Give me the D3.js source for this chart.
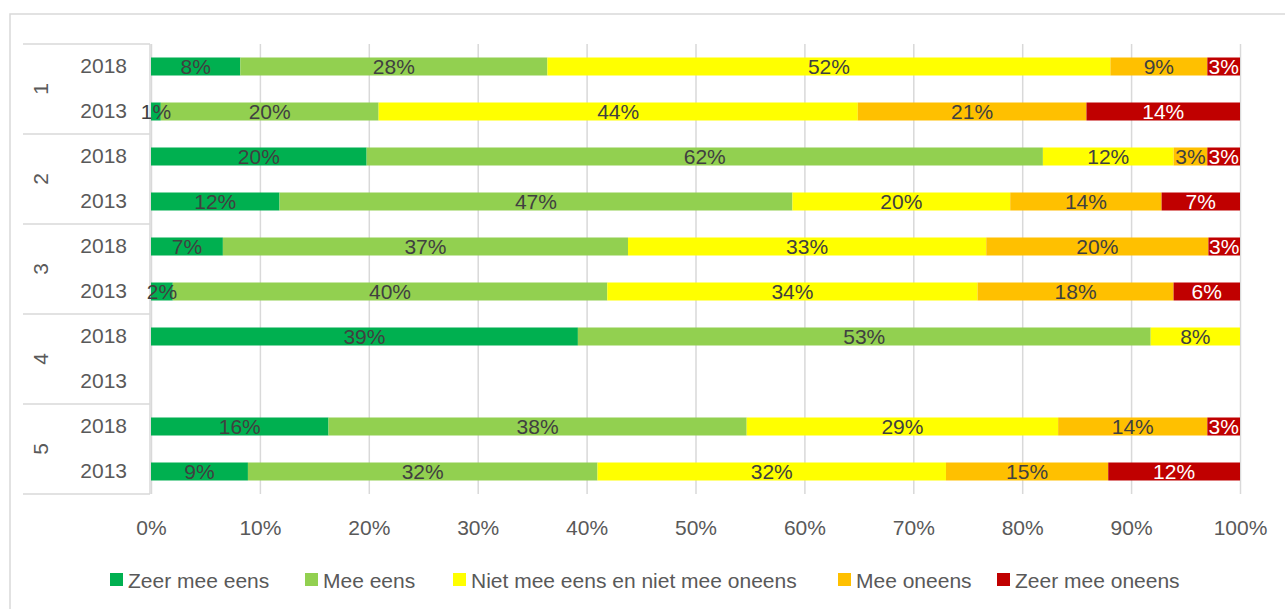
<!DOCTYPE html>
<html>
<head>
<meta charset="utf-8">
<script src="https://cdn.jsdelivr.net/npm/d3@7"></script>
<style>
  body { margin: 0; background: #fff; }
  text { font-family: "Liberation Sans", Arial, sans-serif; }
</style>
</head>
<body>
<div id="chart"></div>
<script>
// Stacked 100% bars per statement (1-5), comparing 2018 with 2013.
const groups = ["1", "2", "3", "4", "5"];
const years = ["2018", "2013"];
const seriesNames = ["Zeer mee eens", "Mee eens", "Niet mee eens en niet mee oneens", "Mee oneens", "Zeer mee oneens"];
const seriesColors = ["#00B050", "#92D050", "#FFFF00", "#FFC000", "#C00000"];

// values per row, in order 1-2018, 1-2013, 2-2018, ... 5-2013
const zeerMeeEens = [8.2, 0.9, 19.8, 11.8, 6.6, 2.0, 39.2, 0, 16.3, 8.9];
const meeEens = [28.2, 20.0, 62.1, 47.1, 37.2, 39.9, 52.6, 0, 38.4, 32.1];
const neutraal = [51.7, 44.0, 12.0, 20.0, 32.9, 34.0, 8.2, 0, 28.6, 32.0];
const meeOneens = [8.9, 21.0, 3.1, 13.9, 20.4, 18.0, 0, 0, 13.7, 14.9];
const zeerMeeOneens = [3.0, 14.1, 3.0, 7.2, 2.9, 6.1, 0, 0, 3.0, 12.1];
const xTicks = [0, 10, 20, 30, 40, 50, 60, 70, 80, 90, 100];

const WIDTH = 1285, HEIGHT = 609;
const PLOT = { left: 151, right: 1240, top: 44, bottom: 494 };
const FONT = "21px";

const rows = groups.flatMap(g => years.map(y => ({ key: `${g}-${y}`, group: g, year: y })));
const seriesValues = [zeerMeeEens, meeEens, neutraal, meeOneens, zeerMeeOneens];
const table = rows.map((r, i) => {
    const o = { key: r.key };
    seriesNames.forEach((s, j) => { o[s] = seriesValues[j][i]; });
    return o;
});

const svg = d3.select("#chart").append("svg")
    .attr("width", WIDTH)
    .attr("height", HEIGHT);

// outer chart border (runs off the picture on the right and bottom)
svg.append("rect")
    .attr("x", 10).attr("y", 14)
    .attr("width", WIDTH).attr("height", HEIGHT)
    .attr("fill", "none")
    .attr("stroke", "#d9d9d9")
    .attr("stroke-width", 1.5);

const x = d3.scaleLinear().domain([0, 100]).range([PLOT.left, PLOT.right]);
const y = d3.scaleBand()
    .domain(rows.map(r => r.key))
    .range([PLOT.top, PLOT.bottom])
    .paddingInner(0.6)
    .paddingOuter(0.3);

// vertical gridlines
svg.append("g")
    .attr("transform", `translate(0, ${PLOT.bottom})`)
    .call(d3.axisBottom(x).tickValues(xTicks).tickSize(-(PLOT.bottom - PLOT.top)).tickFormat(""))
    .call(g => g.select(".domain").remove())
    .call(g => g.selectAll("line").attr("stroke", "#d9d9d9").attr("stroke-width", 1.5));

// x tick labels
svg.append("g")
    .attr("transform", `translate(0, ${PLOT.bottom + 23})`)
    .call(d3.axisBottom(x).tickValues(xTicks).tickSize(0).tickFormat(d => d + "%"))
    .call(g => g.select(".domain").remove())
    .call(g => g.selectAll("text")
        .attr("fill", "#595959")
        .style("font-size", FONT)
        .style("font-family", "'Liberation Sans', Arial, sans-serif"));

// category box: vertical axis line and group separators
const axisG = svg.append("g").attr("stroke", "#d9d9d9").attr("stroke-width", 1.5);
axisG.append("line")
    .attr("x1", PLOT.left - 1).attr("x2", PLOT.left - 1)
    .attr("y1", PLOT.top).attr("y2", PLOT.bottom);

const groupEdges = groups.map(g => y(`${g}-${years[0]}`) - y.step() * 0.3);
groupEdges.push(PLOT.bottom);
axisG.selectAll("line.sep")
    .data(groupEdges)
    .join("line")
    .attr("class", "sep")
    .attr("x1", 23).attr("x2", PLOT.left - 1)
    .attr("y1", d => d).attr("y2", d => d);

// stacked bars
const stack = d3.stack().keys(seriesNames);
const layers = stack(table);

svg.selectAll("g.layer")
    .data(layers)
    .join("g")
    .attr("class", "layer")
    .attr("fill", (d, i) => seriesColors[i])
    .selectAll("rect")
    .data(d => d.filter(p => p[1] - p[0] > 0))
    .join("rect")
    .attr("x", d => x(d[0]))
    .attr("y", d => y(d.data.key))
    .attr("width", d => x(d[1]) - x(d[0]))
    .attr("height", y.bandwidth());

// value labels drawn after all bars so small segments stay readable
const labels = layers.flatMap((layer, i) =>
    layer.filter(p => p[1] - p[0] > 0).map(p => ({ p, i })));

svg.append("g")
    .selectAll("text")
    .data(labels)
    .join("text")
    .attr("x", d => (x(d.p[0]) + x(d.p[1])) / 2)
    .attr("y", d => y(d.p.data.key) + y.bandwidth() / 2)
    .attr("dy", "0.36em")
    .attr("text-anchor", "middle")
    .attr("fill", d => d.i === 4 ? "#ffffff" : "#404040")
    .style("font-size", FONT)
    .text(d => Math.round(d.p[1] - d.p[0]) + "%");

// year labels on the left
const yearAxis = d3.axisLeft(y).tickSize(0).tickFormat(k => k.split("-")[1]);
svg.append("g")
    .attr("transform", `translate(${PLOT.left - 21}, 0)`)
    .call(yearAxis)
    .call(g => g.select(".domain").remove())
    .call(g => g.selectAll("text")
        .attr("fill", "#595959")
        .style("font-size", FONT)
        .style("font-family", "'Liberation Sans', Arial, sans-serif"));

// group labels, rotated
svg.selectAll("text.group")
    .data(groups)
    .join("text")
    .attr("class", "group")
    .attr("transform", g => {
        const cy = (y(`${g}-${years[0]}`) + y(`${g}-${years[1]}`) + y.bandwidth()) / 2;
        return `translate(40, ${cy}) rotate(-90)`;
    })
    .attr("text-anchor", "middle")
    .attr("dy", "0.36em")
    .attr("fill", "#595959")
    .style("font-size", FONT)
    .text(g => g);

// legend
const legendX = [110, 305, 453, 838, 997];
const legend = svg.selectAll("g.legend")
    .data(seriesNames)
    .join("g")
    .attr("class", "legend")
    .attr("transform", (d, i) => `translate(${legendX[i]}, 580)`);

legend.append("rect")
    .attr("x", 0).attr("y", -7)
    .attr("width", 13).attr("height", 13)
    .attr("fill", (d, i) => seriesColors[i]);

legend.append("text")
    .attr("x", 18)
    .attr("dy", "0.36em")
    .attr("fill", "#595959")
    .style("font-size", FONT)
    .text(d => d);
</script>
</body>
</html>
